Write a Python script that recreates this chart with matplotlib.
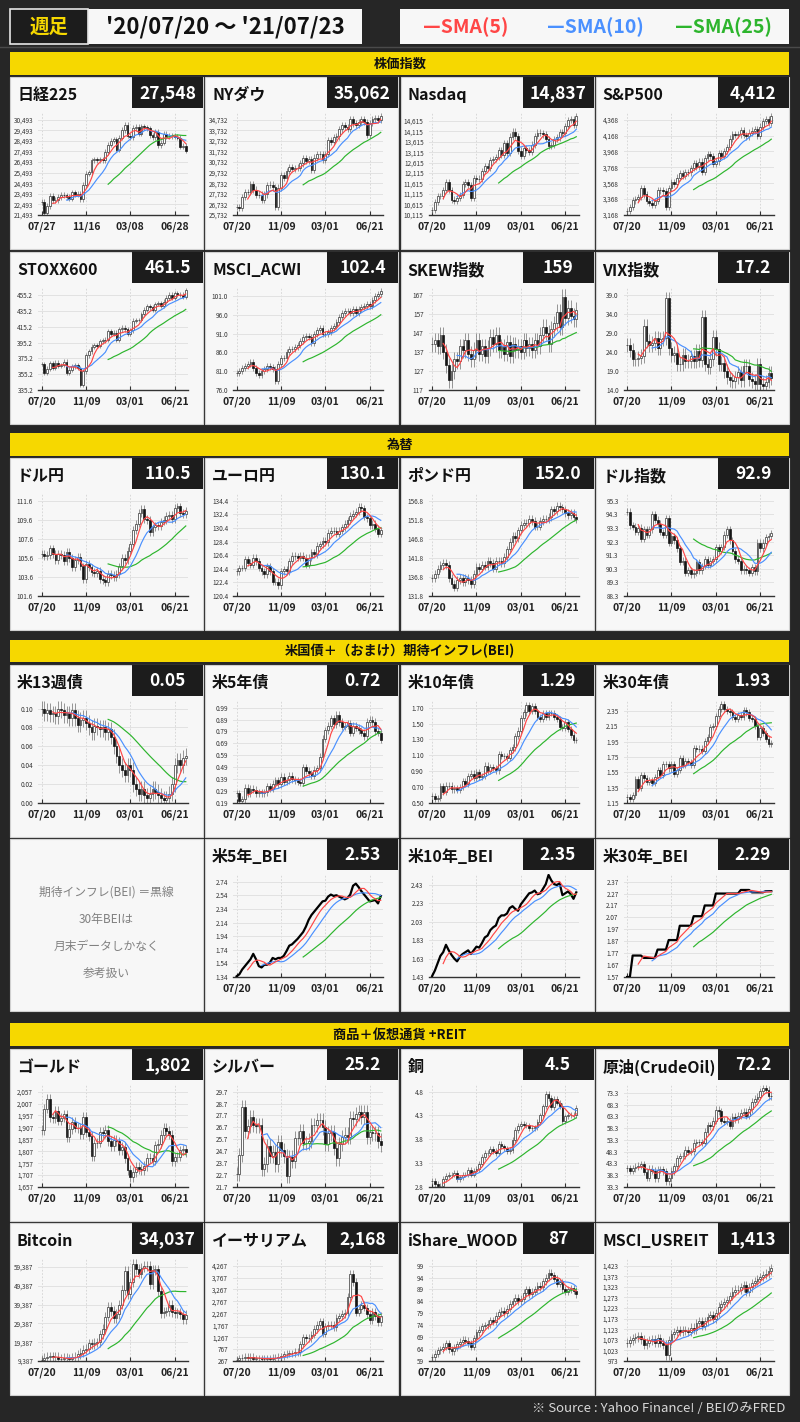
import numpy as np
import pandas as pd
import matplotlib
matplotlib.use('Agg')
import matplotlib.pyplot as plt
from matplotlib.patches import Rectangle

plt.rcParams['font.family'] = ['Noto Sans CJK JP', 'DejaVu Sans']

# ---- weekly closes, '20/07/20 .. '21/07/23 ----
n225 = [22715, 21710, 22329, 23289, 22920, 22882, 23205, 23406, 23360, 23205,
        23030, 23619, 23410, 23516, 22977, 24325, 25385, 25527, 26644, 26751,
        26652, 26763, 26656, 27444, 28139, 28519, 28631, 27663, 28779, 29520,
        30018, 28966, 28864, 29717, 29792, 29176, 29854, 29768, 29683, 29020,
        28813, 29357, 28084, 28317, 29149, 28941, 28948, 28964, 28875, 28783,
        27940, 28003, 27548]
dow = [26470, 26428, 27433, 27931, 27930, 28654, 28133, 27666, 27657, 27174,
       27683, 28587, 28606, 28336, 26502, 28323, 29480, 29263, 29910, 30218,
       30046, 30179, 30200, 30606, 31098, 30814, 30997, 29983, 31148, 31458,
       31494, 30932, 31496, 32779, 32628, 33073, 33153, 33801, 34200, 34043,
       33875, 34778, 34382, 34208, 34529, 34756, 34480, 33290, 34433, 34786,
       34870, 34688, 35062]
nasdaq = [10363, 10745, 11011, 11020, 11312, 11696, 11313, 10854, 10793, 10914,
          11076, 11580, 11672, 11548, 10912, 11895, 11829, 11855, 12206, 12464,
          12378, 12756, 12805, 12888, 13202, 12999, 13543, 13071, 13856, 14095,
          13874, 13192, 12920, 13319, 13215, 13139, 13480, 13900, 14052, 14016,
          13962, 13752, 13430, 13471, 13749, 13815, 14069, 14030, 14360, 14639,
          14701, 14428, 14837]
sp500 = [3216, 3271, 3351, 3373, 3397, 3508, 3427, 3341, 3319, 3298,
         3348, 3477, 3484, 3465, 3270, 3510, 3585, 3558, 3638, 3699,
         3663, 3709, 3703, 3756, 3825, 3768, 3841, 3714, 3887, 3934,
         3907, 3811, 3842, 3943, 3913, 3975, 4020, 4129, 4185, 4180,
         4181, 4233, 4174, 4156, 4204, 4230, 4247, 4166, 4281, 4352,
         4370, 4327, 4412]
stoxx = [368, 356.6, 362, 369, 363, 370, 366, 367, 371, 357,
         361, 365, 367, 363, 342, 359, 379, 384, 390, 392,
         391, 397, 398, 399, 410, 406, 408, 399, 412, 414,
         412, 406, 411, 423, 424, 424, 431, 437, 441, 440,
         437, 444, 445, 442, 447, 452, 456, 452, 458, 456,
         456, 453, 461.5]
acwi = [80.5, 81.0, 81.8, 82.5, 83.0, 83.5, 81.8, 80.5, 80.0, 81.0,
        81.5, 82.5, 82.0, 81.5, 78.5, 83.0, 84.5, 84.5, 86.0, 87.0,
        87.0, 87.5, 88.0, 89.0, 90.0, 90.5, 90.0, 88.5, 91.0, 92.0,
        92.5, 91.0, 91.0, 91.5, 92.5, 93.0, 94.0, 95.5, 96.5, 97.0,
        97.0, 96.5, 97.5, 96.5, 97.5, 98.0, 98.5, 99.0, 98.5, 100.0,
        101.0, 101.5, 102.4]
skew = [141, 143, 140, 146, 137, 130, 122, 127, 133, 132,
        140, 138, 143, 136, 133, 138, 143, 136, 140, 135,
        139, 145, 141, 146, 138, 140, 136, 142, 135, 141,
        138, 140, 137, 143, 139, 141, 138, 143, 140, 146,
        150, 147, 141, 149, 152, 158, 150, 166, 155, 160,
        156, 154, 159]
vix = [25.8, 24.5, 22.2, 22.1, 22.5, 23.0, 30.8, 26.9, 25.8, 26.4,
       27.6, 25.0, 27.4, 27.6, 38.0, 24.9, 23.1, 23.7, 20.8, 20.8,
       23.3, 21.6, 21.5, 22.8, 21.6, 24.3, 21.9, 33.1, 20.9, 20.0,
       22.1, 28.0, 24.7, 20.7, 21.0, 18.9, 17.3, 16.7, 16.3, 17.3,
       18.6, 16.7, 20.2, 20.2, 16.8, 16.4, 15.7, 20.7, 15.6, 15.1,
       16.2, 18.5, 17.2]
usdjpy = [106.0, 105.8, 105.9, 106.6, 106.0, 105.4, 106.0, 105.9, 105.3, 106.2,
          105.6, 104.6, 105.4, 105.7, 104.7, 103.4, 105.0, 104.6, 104.1, 104.0,
          104.2, 103.4, 103.3, 103.1, 103.9, 103.8, 103.6, 103.9, 104.7, 105.6,
          105.4, 106.3, 107.0, 108.5, 109.2, 110.3, 110.7, 109.7, 109.6, 108.3,
          108.8, 109.0, 108.9, 109.4, 109.6, 110.0, 110.1, 109.7, 110.8, 111.0,
          110.3, 110.2, 110.5]
eurjpy = [124.0, 124.5, 124.5, 125.8, 125.3, 125.0, 126.0, 125.5, 124.5, 124.0,
          123.6, 124.8, 124.0, 122.5, 122.5, 122.0, 124.0, 124.3, 124.0, 125.5,
          126.3, 126.2, 126.0, 126.3, 126.0, 125.0, 126.0, 126.8, 126.5, 127.8,
          128.0, 128.5, 128.3, 129.7, 130.0, 130.0, 129.5, 130.0, 130.5, 131.0,
          131.5, 132.2, 132.5, 132.8, 133.5, 133.3, 132.0, 131.8, 130.8, 131.0,
          130.3, 129.5, 130.1]
gbpjpy = [136.5, 137.5, 139.0, 140.0, 140.5, 140.0, 136.5, 135.0, 134.0, 136.0,
          136.5, 135.5, 136.5, 136.0, 135.0, 137.5, 139.5, 139.0, 140.0, 139.5,
          141.0, 140.5, 139.0, 141.0, 141.0, 140.5, 142.0, 144.0, 146.0, 147.5,
          147.0, 149.0, 150.5, 151.0, 151.0, 152.0, 151.5, 150.0, 150.0, 151.5,
          152.0, 152.0, 152.5, 154.5, 154.0, 155.5, 155.0, 154.5, 153.5, 153.0,
          153.5, 152.5, 152.0]
dxy = [94.5, 93.5, 93.4, 93.0, 93.3, 92.5, 93.2, 92.8, 93.2, 94.3,
       93.9, 93.6, 93.0, 92.8, 94.0, 92.2, 92.7, 92.4, 91.8, 90.8,
       90.9, 90.0, 90.2, 89.9, 90.0, 90.8, 90.2, 90.5, 91.0, 90.6,
       90.9, 91.0, 91.9, 91.6, 91.9, 92.8, 93.2, 92.4, 91.6, 91.0,
       90.9, 90.2, 90.3, 90.2, 90.0, 90.4, 90.1, 92.2, 91.8, 92.2,
       92.6, 92.7, 92.9]
t13w = [0.100, 0.095, 0.098, 0.094, 0.095, 0.092, 0.100, 0.098, 0.093, 0.095,
        0.090, 0.098, 0.090, 0.083, 0.088, 0.090, 0.085, 0.080, 0.075, 0.082,
        0.080, 0.078, 0.080, 0.075, 0.078, 0.070, 0.060, 0.050, 0.040, 0.035,
        0.030, 0.040, 0.035, 0.020, 0.015, 0.010, 0.015, 0.008, 0.005, 0.010,
        0.015, 0.012, 0.008, 0.005, 0.003, 0.005, 0.010, 0.020, 0.040, 0.045,
        0.040, 0.048, 0.050]
t5y = [0.27, 0.21, 0.22, 0.32, 0.27, 0.31, 0.30, 0.27, 0.28, 0.27,
       0.28, 0.33, 0.31, 0.35, 0.38, 0.35, 0.41, 0.37, 0.38, 0.42,
       0.39, 0.38, 0.37, 0.36, 0.49, 0.46, 0.44, 0.42, 0.47, 0.48,
       0.58, 0.73, 0.80, 0.84, 0.90, 0.85, 0.93, 0.87, 0.83, 0.84,
       0.86, 0.78, 0.84, 0.82, 0.80, 0.78, 0.75, 0.87, 0.89, 0.87,
       0.79, 0.78, 0.72]
t10y = [0.59, 0.55, 0.56, 0.71, 0.64, 0.72, 0.72, 0.67, 0.69, 0.66,
        0.70, 0.78, 0.74, 0.84, 0.87, 0.82, 0.89, 0.83, 0.84, 0.97,
        0.90, 0.95, 0.94, 0.91, 1.12, 1.09, 1.09, 1.07, 1.17, 1.20,
        1.34, 1.41, 1.57, 1.64, 1.73, 1.66, 1.72, 1.66, 1.58, 1.56,
        1.63, 1.58, 1.63, 1.63, 1.58, 1.56, 1.46, 1.44, 1.52, 1.43,
        1.36, 1.29, 1.29]
t30y = [1.23, 1.20, 1.25, 1.46, 1.35, 1.52, 1.47, 1.42, 1.45, 1.41,
        1.49, 1.58, 1.52, 1.66, 1.66, 1.60, 1.66, 1.53, 1.58, 1.73,
        1.64, 1.70, 1.68, 1.64, 1.87, 1.85, 1.86, 1.83, 1.96, 2.01,
        2.14, 2.15, 2.28, 2.38, 2.44, 2.37, 2.35, 2.33, 2.27, 2.25,
        2.30, 2.27, 2.36, 2.33, 2.26, 2.25, 2.15, 2.01, 2.13, 2.06,
        1.99, 1.92, 1.93]
bei5 = [1.35, 1.38, 1.45, 1.50, 1.55, 1.60, 1.68, 1.60, 1.50, 1.48,
        1.52, 1.52, 1.55, 1.62, 1.60, 1.62, 1.62, 1.65, 1.72, 1.80,
        1.82, 1.86, 1.90, 1.95, 2.00, 2.08, 2.18, 2.25, 2.30, 2.35,
        2.40, 2.45, 2.46, 2.52, 2.55, 2.53, 2.54, 2.52, 2.50, 2.48,
        2.50, 2.55, 2.68, 2.71, 2.66, 2.60, 2.55, 2.50, 2.45, 2.46,
        2.47, 2.42, 2.53]
bei10 = [1.44, 1.50, 1.58, 1.66, 1.70, 1.78, 1.72, 1.67, 1.63, 1.60,
         1.65, 1.68, 1.70, 1.72, 1.68, 1.72, 1.76, 1.75, 1.80, 1.86,
         1.88, 1.94, 1.97, 1.99, 2.07, 2.10, 2.10, 2.12, 2.18, 2.20,
         2.17, 2.15, 2.22, 2.26, 2.30, 2.34, 2.35, 2.37, 2.33, 2.34,
         2.39, 2.44, 2.54, 2.48, 2.44, 2.43, 2.45, 2.32, 2.34, 2.36,
         2.33, 2.28, 2.35]
bei30 = [1.57, 1.57, 1.75, 1.75, 1.75, 1.75, 1.73, 1.73, 1.73, 1.73,
         1.73, 1.80, 1.80, 1.80, 1.80, 1.88, 1.88, 1.88, 1.88, 2.00,
         2.00, 2.00, 2.00, 2.00, 2.08, 2.08, 2.08, 2.08, 2.17, 2.17,
         2.17, 2.17, 2.27, 2.27, 2.27, 2.27, 2.27, 2.27, 2.27, 2.27,
         2.27, 2.30, 2.30, 2.30, 2.30, 2.28, 2.28, 2.28, 2.28, 2.28,
         2.29, 2.29, 2.29]
gold = [1897, 1986, 2028, 1949, 1947, 1975, 1935, 1948, 1962, 1867,
        1900, 1930, 1906, 1905, 1880, 1952, 1886, 1872, 1788, 1840,
        1843, 1888, 1883, 1895, 1850, 1830, 1856, 1848, 1813, 1824,
        1777, 1729, 1698, 1720, 1742, 1732, 1729, 1744, 1780, 1777,
        1768, 1832, 1839, 1877, 1904, 1892, 1877, 1764, 1781, 1784,
        1811, 1815, 1802]
silver = [22.8, 24.4, 28.4, 26.4, 26.8, 27.6, 26.9, 26.8, 26.9, 23.2,
          23.6, 25.1, 24.3, 24.6, 23.6, 25.5, 24.8, 24.3, 22.6, 24.2,
          23.9, 25.8, 25.8, 26.4, 25.4, 25.4, 25.6, 26.9, 26.9, 27.3,
          27.3, 26.7, 25.3, 26.2, 26.3, 25.0, 24.1, 25.3, 25.9, 26.1,
          25.9, 27.5, 27.4, 27.8, 28.0, 27.6, 28.0, 25.9, 26.3, 26.2,
          26.2, 25.6, 25.2]
copper = [2.92, 2.87, 2.82, 2.83, 2.97, 3.04, 3.05, 3.06, 3.09, 2.97,
          3.00, 3.06, 3.06, 3.16, 3.06, 3.14, 3.18, 3.29, 3.43, 3.51,
          3.51, 3.59, 3.55, 3.52, 3.70, 3.65, 3.61, 3.55, 3.58, 3.78,
          3.99, 4.08, 4.12, 4.11, 4.09, 4.04, 4.04, 4.05, 4.16, 4.30,
          4.49, 4.75, 4.67, 4.48, 4.65, 4.57, 4.50, 4.19, 4.28, 4.31,
          4.31, 4.31, 4.45]
crude = [41.3, 40.3, 41.2, 42.0, 42.3, 43.0, 39.8, 37.3, 41.1, 40.3,
         37.1, 40.6, 40.9, 39.9, 35.8, 37.1, 40.1, 42.2, 45.5, 46.3,
         46.6, 49.1, 48.2, 48.5, 52.2, 52.4, 52.3, 52.2, 56.9, 59.5,
         59.2, 61.5, 66.1, 65.6, 61.4, 61.0, 61.5, 59.3, 63.1, 62.1,
         63.6, 64.9, 65.4, 63.6, 66.3, 69.6, 70.9, 71.6, 74.1, 75.2,
         74.6, 71.8, 72.2]
btc = [9900, 11100, 11700, 11800, 11600, 11700, 10300, 10700, 10900, 10800,
       10600, 11300, 11500, 13000, 13800, 15500, 16000, 18700, 18200, 19200,
       19300, 23500, 26400, 33000, 38200, 36000, 32100, 34300, 39300, 47200,
       57500, 45100, 51200, 61200, 58300, 55900, 59000, 60000, 60000, 50100,
       57800, 58200, 46400, 34800, 35700, 35800, 39100, 35500, 34700, 35300,
       34200, 31800, 34037]
eth = [311, 387, 395, 433, 395, 435, 353, 381, 385, 355,
       353, 375, 368, 410, 383, 455, 460, 550, 575, 595,
       585, 655, 630, 975, 1260, 1230, 1230, 1370, 1610, 1780,
       1935, 1420, 1720, 1790, 1780, 1690, 2080, 2140, 2240, 2300,
       2950, 3930, 3580, 2300, 2430, 2630, 2510, 2240, 1970, 2320,
       2140, 1900, 2168]
wood = [60.5, 62.0, 63.5, 64.0, 65.0, 66.5, 64.0, 63.0, 64.5, 66.0,
        67.0, 68.0, 67.5, 66.5, 65.0, 68.5, 71.0, 72.0, 73.5, 74.0,
        74.5, 76.0, 75.5, 78.0, 79.5, 80.0, 79.0, 81.0, 83.0, 84.0,
        85.5, 84.0, 85.0, 87.5, 89.0, 87.0, 88.0, 89.0, 90.5, 90.0,
        92.5, 94.0, 96.0, 95.0, 93.5, 91.5, 92.0, 89.0, 88.0, 89.0,
        89.5, 88.5, 87.0]
reit = [1060, 1070, 1080, 1085, 1090, 1075, 1050, 1060, 1070, 1075,
        1060, 1080, 1060, 1050, 1000, 1070, 1100, 1110, 1120, 1110,
        1120, 1115, 1110, 1130, 1120, 1150, 1160, 1140, 1160, 1180,
        1190, 1170, 1200, 1230, 1240, 1250, 1260, 1280, 1300, 1310,
        1310, 1320, 1330, 1300, 1320, 1340, 1350, 1360, 1370, 1380,
        1385, 1400, 1413]

xlab_us = ['07/20', '11/09', '03/01', '06/21']
xlab_jp = ['07/27', '11/16', '03/08', '06/28']
tick_idx = [0, 16, 32, 48]

bei_note = ['期待インフレ(BEI) ＝黒線', '30年BEIは', '月末データしかなく', '参考扱い']
sections = ['株価指数', '為替', '米国債＋（おまけ）期待インフレ(BEI)', '商品＋仮想通貨 +REIT']

# row, col, title, shown value, series, y base, y step, n ticks, decimals, wick, kind
panels = [
    (0, 0, '日経225', '27,548', n225, 21493, 1000, 10, 0, 250, 'c'),
    (0, 1, 'NYダウ', '35,062', dow, 25732, 1000, 10, 0, 300, 'c'),
    (0, 2, 'Nasdaq', '14,837', nasdaq, 10115, 500, 10, 0, 150, 'c'),
    (0, 3, 'S&P500', '4,412', sp500, 3168, 200, 7, 0, 40, 'c'),
    (1, 0, 'STOXX600', '461.5', stoxx, 335.2, 20, 7, 1, 3, 'c'),
    (1, 1, 'MSCI_ACWI', '102.4', acwi, 76.0, 5, 6, 1, 0.8, 'c'),
    (1, 2, 'SKEW指数', '159', skew, 117, 10, 6, 0, 4, 'c'),
    (1, 3, 'VIX指数', '17.2', vix, 14.0, 5, 6, 1, 1.8, 'c'),
    (2, 0, 'ドル円', '110.5', usdjpy, 101.6, 2, 6, 1, 0.4, 'c'),
    (2, 1, 'ユーロ円', '130.1', eurjpy, 120.4, 2, 8, 1, 0.5, 'c'),
    (2, 2, 'ポンド円', '152.0', gbpjpy, 131.8, 5, 6, 1, 1.0, 'c'),
    (2, 3, 'ドル指数', '92.9', dxy, 88.3, 1, 8, 1, 0.25, 'c'),
    (3, 0, '米13週債', '0.05', t13w, 0.0, 0.02, 6, 2, 0.008, 'c'),
    (3, 1, '米5年債', '0.72', t5y, 0.19, 0.10, 9, 2, 0.03, 'c'),
    (3, 2, '米10年債', '1.29', t10y, 0.50, 0.20, 7, 2, 0.04, 'c'),
    (3, 3, '米30年債', '1.93', t30y, 1.15, 0.20, 7, 2, 0.04, 'c'),
    (4, 1, '米5年_BEI', '2.53', bei5, 1.34, 0.20, 8, 2, 0, 'l'),
    (4, 2, '米10年_BEI', '2.35', bei10, 1.43, 0.20, 6, 2, 0, 'l'),
    (4, 3, '米30年_BEI', '2.29', bei30, 1.57, 0.10, 9, 2, 0, 'l'),
    (5, 0, 'ゴールド', '1,802', gold, 1657, 50, 9, 0, 20, 'c'),
    (5, 1, 'シルバー', '25.2', silver, 21.7, 1, 9, 1, 0.6, 'c'),
    (5, 2, '銅', '4.5', copper, 2.8, 0.5, 5, 1, 0.06, 'c'),
    (5, 3, '原油(CrudeOil)', '72.2', crude, 33.3, 5, 9, 1, 1.5, 'c'),
    (6, 0, 'Bitcoin', '34,037', btc, 9387, 10000, 6, 0, 2500, 'c'),
    (6, 1, 'イーサリアム', '2,168', eth, 267, 500, 9, 0, 150, 'c'),
    (6, 2, 'iShare_WOOD', '87', wood, 59, 5, 9, 0, 1.5, 'c'),
    (6, 3, 'MSCI_USREIT', '1,413', reit, 973, 50, 10, 0, 20, 'c'),
]

# ---- layout (pixels) ----
W, H = 800, 1422
col_x = [10, 205, 400.5, 595.5]
row_y = [77, 252, 458, 665, 839, 1049, 1223]
sec_y = [(52, 75), (433, 456), (640, 662), (1023, 1046)]
PW, PH = 193, 172
YEL = '#f6d800'
PANEL = '#f7f7f7'
RED, BLUE, GREEN = '#ff4646', '#4a90ff', '#2db52d'

fig = plt.figure(figsize=(W / 100, H / 100), dpi=100)
fig.patch.set_facecolor('#262626')
bg = fig.add_axes([0, 0, 1, 1])
bg.set_xlim(0, W)
bg.set_ylim(H, 0)
bg.axis('off')


def rect(x0, y0, x1, y1, fc, ec='none', lw=0):
    bg.add_patch(Rectangle((x0, y0), x1 - x0, y1 - y0, facecolor=fc, edgecolor=ec, linewidth=lw))


# header
bg.plot([0, W], [47, 47], color='#4a4a4a', lw=1)
rect(88, 8.5, 362, 44, PANEL)
rect(10, 8.5, 88, 44, '#1c1c1c', ec='#e6e6e6', lw=1.2)
bg.text(49, 27, '週足', color=YEL, fontsize=14, fontweight='bold', ha='center', va='center')
bg.text(225, 27, "'20/07/20 〜 '21/07/23", color='#111', fontsize=16, fontweight='bold',
        ha='center', va='center')
rect(400, 8.5, 789, 44, PANEL)
for x, s, c in [(466, '—SMA(5)', RED), (595, '—SMA(10)', BLUE), (723, '—SMA(25)', GREEN)]:
    bg.text(x, 27, s, color=c, fontsize=14, fontweight='bold', ha='center', va='center')

for (y0, y1), s in zip(sec_y, sections):
    rect(10, y0, 789, y1, YEL)
    bg.text(400, (y0 + y1) / 2, s, fontsize=9.5, fontweight='bold', color='#111',
            ha='center', va='center')

bg.text(785, 1408, '※ Source : Yahoo Finance! / BEIのみFRED', color='#d8d8d8',
        fontsize=9.5, ha='right', va='center')

# note panel
px, py = col_x[0], row_y[4]
rect(px, py, px + PW, py + PH, PANEL, ec='#d0d0d0', lw=0.8)
for k, s in enumerate(bei_note):
    bg.text(px + PW / 2, py + 53 + k * 27, s, color='#808080', fontsize=8.5, ha='center', va='center')


def draw_panel(r, c, title, val, data, base, step, nt, dec, wick, kind):
    px, py = col_x[c], row_y[r]
    rect(px, py, px + PW, py + PH, PANEL, ec='#d0d0d0', lw=0.8)
    rect(px + 122, py, px + PW, py + 31, '#1c1c1c')
    bg.text(px + 7, py + 18, title, fontsize=11.5, fontweight='bold', color='#111',
            ha='left', va='center')
    bg.text(px + 157.5, py + 16, val, fontsize=12.5, fontweight='bold', color='white',
            ha='center', va='center')

    ax = fig.add_axes([(px + 28) / W, 1 - (py + 138) / H, 150 / W, 103 / H])
    ax.set_facecolor('none')
    cl = np.array(data, dtype=float)
    x = np.arange(len(cl))
    if kind == 'c':
        op = np.r_[cl[0], cl[:-1]]
        up = cl >= op
        hi = np.maximum(op, cl) + wick
        lo = np.minimum(op, cl) - wick
        ax.vlines(x, lo, hi, color='#7a7a7a', lw=0.55, zorder=2)
        ax.bar(x[up], (cl - op)[up], bottom=op[up], width=0.65, color='white',
               edgecolor='#333', linewidth=0.5, zorder=3)
        ax.bar(x[~up], (op - cl)[~up], bottom=cl[~up], width=0.65, color='#151515',
               edgecolor='#151515', linewidth=0.5, zorder=3)
        top_data = hi.max()
    else:
        ax.plot(x, cl, color='black', lw=1.6, zorder=3)
        top_data = cl.max()
    s = pd.Series(cl)
    for n, col in [(25, GREEN), (10, BLUE), (5, RED)]:
        ax.plot(x, s.rolling(n).mean(), color=col, lw=0.85, zorder=4)

    ticks = [round(base + k * step, 4) for k in range(nt)]
    span = ticks[-1] - ticks[0]
    ax.set_ylim(base, max(ticks[-1] + 0.08 * span, top_data + 0.01 * span))
    ax.set_xlim(-1.3, 52.8)
    ax.set_yticks(ticks)
    ax.set_yticklabels([f'{t:,.{dec}f}' for t in ticks])
    ax.set_xticks(tick_idx)
    ax.set_xticklabels(xlab_jp if r == 0 and c == 0 else xlab_us, fontweight='bold')
    ax.grid(axis='y', color='#e2e2e2', lw=0.7)
    ax.grid(axis='x', color='#d2d2d2', lw=0.6, ls=(0, (2, 2)))
    ax.set_axisbelow(True)
    for sp in ['top', 'right', 'left']:
        ax.spines[sp].set_visible(False)
    ax.spines['bottom'].set_color('#333')
    ax.spines['bottom'].set_linewidth(1.0)
    ax.tick_params(axis='y', length=0, pad=3.5, labelsize=4.6, labelcolor='#333')
    ax.tick_params(axis='x', direction='in', length=3, width=0.8, color='#333',
                   pad=5, labelsize=7.5, labelcolor='#222')


for p in panels:
    draw_panel(*p)

fig.savefig('out.png', dpi=100, facecolor=fig.get_facecolor())
